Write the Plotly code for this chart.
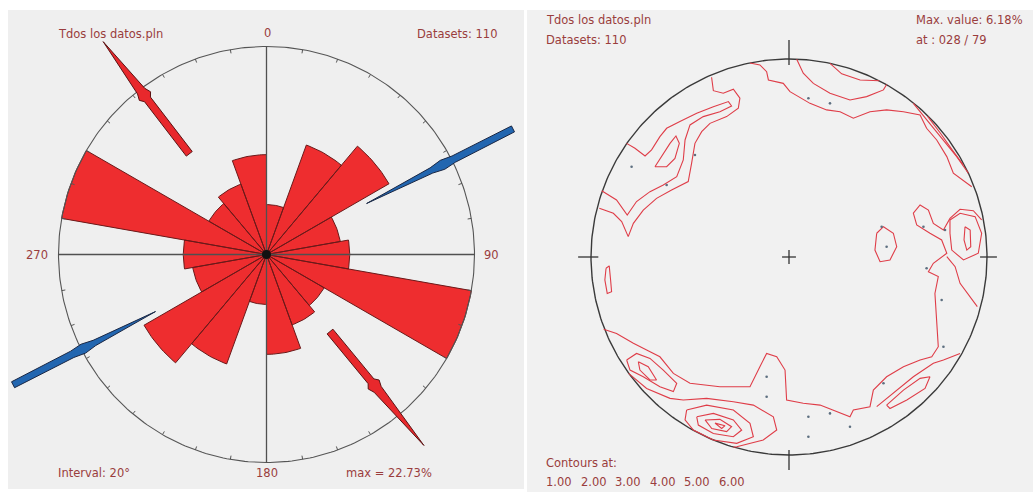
import numpy as np
import plotly.graph_objects as go

W, H = 1033, 492

# ---------------- Rose diagram (left panel) ----------------
bin_start = [0, 20, 40, 60, 80, 100, 120, 140, 160]   # deg, bidirectional bins
bin_count = [6, 14, 17, 9, 10, 25, 8, 9, 12]
n_data = 110
bin_width = 20

red_arrow_bearing = [322.5, 140.5]
red_arrow_r_in = [0.61, 0.48]
red_arrow_r_barb = [0.99, 0.84]
red_arrow_r_tip = [1.29, 1.19]

blue_arrow_bearing = [63.0, 242.8]
blue_arrow_r_in = [0.54, 0.60]
blue_arrow_r_bulge = [0.95, 0.99]
blue_arrow_r_out = [1.33, 1.37]

# ---------------- Stereonet (right panel) ----------------
contour_levels = [1.00, 2.00, 3.00, 4.00, 5.00, 6.00]
max_value = 6.18
max_at = "028 / 79"

# contour polylines, net radius = 100
c_nw1 = [(-39.1, 90.8), (-38.2, 84.0), (-33.2, 82.7), (-28.1, 84.7), (-24.8, 80.2), (-25.6, 75.1),
         (-31.5, 70.9), (-39.9, 67.5), (-44.1, 63.3), (-47.5, 57.4), (-49.2, 47.3), (-50.9, 38.1),
         (-59.3, 33.8), (-66.9, 29.6), (-73.6, 23.7), (-78.6, 17.0), (-81.2, 10.3), (-84.5, 17.9),
         (-88.7, 22.1), (-95.8, 24.6)]
c_nw2 = [(-82.0, 57.4), (-77.8, 54.9), (-72.7, 51.0), (-69.4, 54.1), (-65.2, 60.8), (-61.8, 65.0),
         (-55.1, 68.4), (-46.6, 72.6), (-38.2, 75.9), (-30.6, 78.5), (-29.0, 76.3), (-34.9, 73.4),
         (-43.3, 70.9), (-50.0, 66.7), (-52.5, 59.1), (-53.4, 49.0), (-56.7, 40.6), (-63.5, 36.4),
         (-70.2, 33.0), (-77.0, 28.0), (-81.7, 21.2), (-87.1, 28.8), (-94.6, 33.5)]
c_nw3 = [(-67.7, 45.6), (-64.3, 50.7), (-60.1, 57.4), (-57.1, 61.1), (-55.4, 57.4), (-57.6, 49.8),
         (-61.8, 45.6), (-67.7, 45.6)]
c_n1 = [(-19.7, 98.0), (-14.7, 97.0), (-11.3, 93.6), (-10.4, 89.4), (-2.9, 87.7), (0.5, 83.5),
        (10.6, 77.6), (19.0, 74.3), (25.8, 73.4), (32.5, 70.1), (40.9, 73.4), (49.3, 74.3),
        (57.8, 73.4), (66.2, 71.7), (69.5, 65.0), (74.6, 59.1), (79.7, 50.7), (83.0, 42.3),
        (92.3, 35.5)]
c_n2 = [(3.9, 99.9), (7.2, 92.8), (12.3, 87.7), (20.7, 82.7), (30.8, 79.3), (39.2, 81.0),
        (47.7, 84.4), (49.3, 87.1)]
c_n3 = [(20.7, 97.8), (26.6, 92.5), (35.9, 89.4), (45.6, 89.0)]
c_ne1 = [(62.8, 77.6), (71.2, 67.5), (78.0, 59.1), (84.7, 50.7), (90.6, 42.3)]
c_ne2 = [(70.0, 71.0), (76.5, 62.5), (82.5, 54.0), (88.0, 46.5)]
c_e1 = [(44.3, 12.0), (47.7, 15.3), (52.7, 12.0), (54.4, 5.2), (51.0, -1.5), (46.0, -2.4),
        (43.4, 3.5), (44.3, 12.0)]
c_big = [(97.3, 18.7), (93.1, 23.4), (86.4, 24.1), (81.3, 19.5), (78.0, 13.6), (72.9, 17.0),
         (70.4, 23.7), (66.2, 26.3), (62.8, 22.1), (64.5, 16.2), (71.2, 12.0), (77.1, 8.6),
         (79.7, 1.9), (72.9, -3.2), (70.4, -7.4), (75.4, -9.9), (73.7, -18.4), (74.6, -30.1),
         (75.4, -45.3), (72.1, -50.4), (66.2, -52.0), (57.8, -55.4), (49.3, -60.5), (42.6, -67.2),
         (40.9, -75.6), (32.5, -77.3), (30.8, -80.7), (15.7, -74.8), (7.2, -73.9), (-1.2, -72.2),
         (-2.0, -57.1), (-6.2, -50.4), (-11.3, -48.7), (-14.7, -55.4), (-19.7, -65.5),
         (-34.9, -65.5), (-50.0, -63.8), (-58.4, -58.8), (-65.2, -50.4), (-71.9, -47.0),
         (-78.6, -43.6), (-87.1, -38.6), (-93.6, -36.5)]
c_e2 = [(81.3, 18.7), (86.4, 22.1), (94.0, 20.4), (97.3, 12.0), (95.6, 1.9), (88.1, -1.5),
        (82.2, 3.5), (81.3, 12.0), (81.3, 18.7)]
c_e3 = [(88.9, 15.3), (91.5, 13.6), (91.8, 5.2), (89.8, 3.5), (88.4, 8.6), (88.9, 15.3)]
c_e4 = [(79.7, 0.2), (83.9, -4.9), (86.4, -13.3), (91.5, -20.0), (95.1, -25.1)]
c_se1 = [(44.3, -75.6), (52.7, -68.9), (62.8, -60.5), (72.9, -53.7), (78.0, -52.0), (86.4, -48.7)]
c_se2 = [(49.3, -74.8), (57.8, -67.2), (66.2, -61.3), (71.2, -60.5), (68.7, -66.4), (59.5, -72.2),
         (51.0, -76.5), (49.3, -74.8)]
c_sw1 = [(-82.0, -52.0), (-77.0, -48.7), (-70.2, -51.2), (-63.5, -57.1), (-56.7, -63.8),
         (-58.4, -68.0), (-65.2, -65.5), (-73.6, -60.5), (-80.3, -57.1), (-82.0, -52.0)]
c_sw2 = [(-76.1, -52.9), (-71.1, -55.4), (-66.9, -62.1), (-70.2, -62.1), (-75.3, -57.1), (-76.1, -52.9)]
c_s1 = [(-81.0, -58.8), (-71.9, -66.4), (-60.1, -71.4), (-53.4, -72.2), (-41.6, -71.4), (-28.1, -73.1),
        (-18.0, -74.8), (-7.9, -80.7), (-6.2, -87.4), (-13.0, -92.4), (-26.4, -95.8), (-28.1, -96.0)]
c_s2 = [(-51.7, -77.3), (-41.6, -74.8), (-28.1, -77.3), (-19.7, -84.0), (-18.0, -90.8), (-26.4, -94.1),
        (-38.2, -92.4), (-48.3, -87.4), (-52.5, -82.3), (-51.7, -77.3)]
c_s3 = [(-46.6, -80.7), (-38.2, -79.0), (-28.1, -82.3), (-23.9, -87.4), (-28.1, -90.8), (-38.2, -89.1),
        (-45.8, -84.9), (-46.6, -80.7)]
c_s4 = [(-42.4, -82.3), (-34.9, -82.0), (-29.0, -85.7), (-31.5, -88.2), (-39.0, -86.6), (-42.4, -82.3)]
c_s5 = [(-37.4, -83.9), (-32.3, -85.2), (-34.0, -86.6), (-37.4, -83.9)]
c_w1 = [(-92.4, -5.7), (-90.8, -4.5), (-90.1, -11.6), (-89.6, -17.5), (-91.8, -18.4), (-93.0, -11.6),
        (-92.4, -5.7)]
contour_lines = [c_nw1, c_nw2, c_nw3, c_n1, c_n2, c_n3, c_ne1, c_ne2, c_e1, c_big, c_e2, c_e3, c_e4,
                 c_se1, c_se2, c_sw1, c_sw2, c_s1, c_s2, c_s3, c_s4, c_s5, c_w1]

pole_x = [-79.5, -61.8, -47.5, 9.8, 20.7, 67.9, 78.8, 77.1, 69.5, 78.0, 47.7, 9.8, 20.7, 30.8, 9.8,
          -11.3, -11.3, 49.3, 46.8]
pole_y = [45.6, 36.4, 51.5, 80.2, 77.6, 15.3, 13.6, -21.7, -5.7, -45.3, -63.8, -80.7, -79.0, -85.7,
          -90.8, -60.5, -70.6, 5.2, 15.3]

# ---------------- layout geometry ----------------
L_CX, L_CY, L_R = 266.5, 254.5, 208.0     # rose centre / radius (px)
R_CX, R_CY, R_R = 789.0, 257.0, 198.0     # net centre / radius (px)
SPLIT = 524

TXT = "#9a3d3d"
FONT = "DejaVu Sans, Arial, sans-serif"
FS = 11.5

fig = go.Figure()

# ---- rose petals ----
pct = [c / n_data * 100 for c in bin_count]
max_pct = max(pct)
px, py = [], []
for s, p in zip(bin_start, pct):
    r = p / max_pct
    for off in (0, 180):
        th = np.radians(np.linspace(s + off, s + off + bin_width, 16))
        px += [0] + list(r * np.sin(th)) + [0, None]
        py += [0] + list(r * np.cos(th)) + [0, None]
fig.add_trace(go.Scatter(x=px, y=py, mode="lines", fill="toself", fillcolor="#ee2d2f",
                         line=dict(color="#6a1a1a", width=1), xaxis="x", yaxis="y", hoverinfo="skip"))

# ---- rose circle + ticks ----
t = np.radians(np.linspace(0, 360, 361))
fig.add_trace(go.Scatter(x=np.sin(t), y=np.cos(t), mode="lines", line=dict(color="#555555", width=1.1),
                         xaxis="x", yaxis="y", hoverinfo="skip"))
tx, ty = [], []
for a in range(0, 360, 10):
    ar = np.radians(a)
    tx += [0.982 * np.sin(ar), 1.0 * np.sin(ar), None]
    ty += [0.982 * np.cos(ar), 1.0 * np.cos(ar), None]
fig.add_trace(go.Scatter(x=tx, y=ty, mode="lines", line=dict(color="#555555", width=1),
                         xaxis="x", yaxis="y", hoverinfo="skip"))
# diameters
fig.add_trace(go.Scatter(x=[-1, 1, None, 0, 0], y=[0, 0, None, -1, 1], mode="lines",
                         line=dict(color="#505050", width=1.3), xaxis="x", yaxis="y", hoverinfo="skip"))


def along(b, r, w):
    br = np.radians(b)
    return r * np.sin(br) + w * np.cos(br), r * np.cos(br) - w * np.sin(br)


# ---- red arrows (pointing outward) ----
for b, r0, rb, rt in zip(red_arrow_bearing, red_arrow_r_in, red_arrow_r_barb, red_arrow_r_tip):
    prof = [(r0, -0.018), (rb - 0.05, -0.018), (rb - 0.03, -0.034), (rb, -0.022), (rt, 0),
            (rb, 0.022), (rb - 0.03, 0.034), (rb - 0.05, 0.018), (r0, 0.018), (r0, -0.018)]
    xs, ys = zip(*[along(b, r, w) for r, w in prof])
    fig.add_trace(go.Scatter(x=xs, y=ys, mode="lines", fill="toself", fillcolor="#e8282c",
                             line=dict(color="#5a1414", width=1), xaxis="x", yaxis="y", hoverinfo="skip"))

# ---- blue arrows (pointing inward) ----
for b, r0, rb, ro in zip(blue_arrow_bearing, blue_arrow_r_in, blue_arrow_r_bulge, blue_arrow_r_out):
    prof = [(r0, 0), (rb - 0.06, -0.014), (rb, -0.024), (rb + 0.06, -0.017), (ro, -0.016),
            (ro, 0.016), (rb + 0.06, 0.017), (rb, 0.024), (rb - 0.06, 0.014), (r0, 0)]
    xs, ys = zip(*[along(b, r, w) for r, w in prof])
    fig.add_trace(go.Scatter(x=xs, y=ys, mode="lines", fill="toself", fillcolor="#2266b0",
                             line=dict(color="#1a2744", width=1), xaxis="x", yaxis="y", hoverinfo="skip"))

fig.add_trace(go.Scatter(x=[0], y=[0], mode="markers", marker=dict(color="#111111", size=9),
                         xaxis="x", yaxis="y", hoverinfo="skip"))

# ---- stereonet ----
fig.add_trace(go.Scatter(x=np.sin(t), y=np.cos(t), mode="lines", line=dict(color="#3a3a3a", width=1.4),
                         xaxis="x2", yaxis="y2", hoverinfo="skip"))
fig.add_trace(go.Scatter(x=[-0.035, 0.035, None, 0, 0, None, 0, 0, None, 0, 0, None, 0.965, 1.05, None, -1.065, -0.963],
                         y=[0, 0, None, -0.035, 0.035, None, 0.97, 1.096, None, -0.975, -1.076, None, 0, 0, None, 0, 0],
                         mode="lines", line=dict(color="#333333", width=1.3), xaxis="x2", yaxis="y2",
                         hoverinfo="skip"))
cx, cy = [], []
for line in contour_lines:
    cx += [p[0] / 100 for p in line] + [None]
    cy += [p[1] / 100 for p in line] + [None]
fig.add_trace(go.Scatter(x=cx, y=cy, mode="lines", line=dict(color="#df3d48", width=1.1),
                         xaxis="x2", yaxis="y2", hoverinfo="skip"))
fig.add_trace(go.Scatter(x=[v / 100 for v in pole_x], y=[v / 100 for v in pole_y], mode="markers",
                         marker=dict(color="#5d6f80", size=2.6), xaxis="x2", yaxis="y2", hoverinfo="skip"))

# ---- axes ----
ax_off = dict(visible=False, showgrid=False, zeroline=False, fixedrange=True)
fig.update_layout(
    width=W, height=H, margin=dict(l=0, r=0, t=0, b=0, pad=0), showlegend=False,
    paper_bgcolor="white", plot_bgcolor="rgba(0,0,0,0)",
    xaxis=dict(domain=[0, 520 / W], range=[(0 - L_CX) / L_R, (520 - L_CX) / L_R], **ax_off),
    yaxis=dict(domain=[0, 1], range=[(L_CY - H) / L_R, L_CY / L_R], **ax_off),
    xaxis2=dict(domain=[520 / W, 1], range=[(520 - R_CX) / R_R, (W - R_CX) / R_R], **ax_off),
    yaxis2=dict(domain=[0, 1], range=[(R_CY - H) / R_R, R_CY / R_R], anchor="x2", **ax_off),
)
fig.update_layout(shapes=[
    dict(type="rect", xref="paper", yref="paper", x0=8 / W, x1=SPLIT / W, y0=1 - 489 / H, y1=1 - 10 / H,
         fillcolor="#efefef", line=dict(width=0), layer="below"),
    dict(type="rect", xref="paper", yref="paper", x0=(SPLIT + 3) / W, x1=1, y0=0, y1=1 - 10 / H,
         fillcolor="#f1f1f1", line=dict(width=0), layer="below"),
])


def ann(text, xp, yp, xanchor="left"):
    return dict(text=text, x=xp / W, y=1 - yp / H, xref="paper", yref="paper", showarrow=False,
                xanchor=xanchor, yanchor="middle", font=dict(family=FONT, size=FS, color=TXT))


anns = [
    ann("Tdos los datos.pln", 56, 34),
    ann(f"Datasets: {n_data}", 500, 34, "right"),
    ann("0", 267, 33, "center"),
    ann("270", 37, 255, "center"),
    ann("90", 491, 255, "center"),
    ann("180", 267, 473, "center"),
    ann(f"Interval: {bin_width}°", 56, 473),
    ann(f"max = {max_pct:.2f}%", 344, 473),
    ann("Tdos los datos.pln", 544, 20),
    ann(f"Datasets: {n_data}", 544, 40),
    ann(f"Max. value: {max_value:.2f}%", 914, 20),
    ann(f"at : {max_at}", 914, 40),
    ann("Contours at:", 544, 463),
]
for i, lv in enumerate(contour_levels):
    anns.append(ann(f"{lv:.2f}", 544 + i * 34.5, 482))
fig.update_layout(annotations=anns)

fig.write_html("out.html", config={"displayModeBar": False},
               post_script="document.body.style.margin='0';")
